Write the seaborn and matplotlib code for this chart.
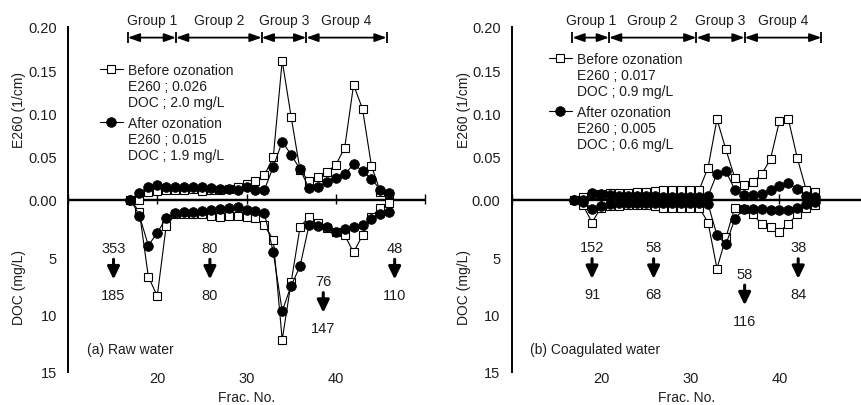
import matplotlib
matplotlib.use("Agg")
import matplotlib.pyplot as plt
import pandas as pd
import seaborn as sns
from matplotlib.lines import Line2D
from matplotlib.legend import Legend

# fraction numbers of the two columns
frac_a = list(range(17, 47))
frac_b = list(range(17, 45))

# (a) raw water
e260_before_a = [0.000, 0.000, 0.009, 0.010, 0.011, 0.011, 0.011, 0.012, 0.010, 0.011,
                 0.011, 0.012, 0.015, 0.018, 0.021, 0.028, 0.049, 0.161, 0.096, 0.034,
                 0.021, 0.026, 0.032, 0.040, 0.060, 0.133, 0.105, 0.039, 0.009, 0.006]
e260_after_a = [0.000, 0.007, 0.015, 0.017, 0.015, 0.014, 0.015, 0.015, 0.015, 0.013,
                0.012, 0.012, 0.011, 0.015, 0.011, 0.011, 0.038, 0.067, 0.052, 0.035,
                0.013, 0.014, 0.020, 0.025, 0.029, 0.041, 0.033, 0.024, 0.011, 0.007]
doc_before_a = [0.0, 1.1, 6.7, 8.4, 2.3, 1.3, 1.3, 1.3, 1.3, 1.4,
                1.5, 1.4, 1.4, 1.5, 1.6, 2.25, 3.5, 12.2, 7.2, 2.4,
                1.5, 2.0, 2.5, 2.8, 3.1, 4.6, 3.1, 1.5, 0.7, 0.3]
doc_after_a = [0.0, 1.4, 4.0, 2.9, 1.6, 1.2, 1.1, 1.1, 1.0, 0.9,
               0.8, 0.7, 0.65, 0.9, 1.0, 1.15, 4.6, 9.7, 7.5, 5.8,
               2.25, 2.3, 2.4, 2.8, 2.55, 2.4, 2.25, 1.7, 1.25, 1.1]

# (b) coagulated water
e260_before_b = [0.000, 0.003, 0.006, 0.006, 0.007, 0.007, 0.008, 0.009, 0.009, 0.010,
                 0.011, 0.011, 0.011, 0.011, 0.011, 0.037, 0.093, 0.058, 0.025, 0.017,
                 0.020, 0.029, 0.047, 0.091, 0.093, 0.048, 0.011, 0.009]
e260_after_b = [0.000, 0.000, 0.007, 0.006, 0.005, 0.004, 0.004, 0.004, 0.004, 0.004,
                0.003, 0.003, 0.003, 0.003, 0.003, 0.004, 0.030, 0.033, 0.011, 0.005,
                0.0055, 0.0065, 0.0105, 0.0155, 0.019, 0.012, 0.0035, 0.0027]
doc_before_b = [0.0, 0.5, 2.0, 0.7, 0.6, 0.6, 0.5, 0.5, 0.5, 0.6,
                0.7, 0.7, 0.7, 0.7, 0.7, 2.0, 6.0, 3.3, 0.7, 0.8,
                1.3, 2.1, 2.4, 2.8, 2.1, 1.3, 0.7, 0.5]
doc_after_b = [0.0, 0.2, 0.8, 0.6, 0.35, 0.3, 0.3, 0.3, 0.3, 0.3,
               0.3, 0.3, 0.3, 0.3, 0.3, 0.4, 3.1, 3.9, 1.7, 0.8,
               0.8, 0.85, 0.9, 0.95, 0.9, 0.75, 0.4, 0.2]

# group boundaries (fraction no.)
groups_a = [16.7, 22.1, 31.7, 36.7, 45.7]
groups_b = [16.8, 20.9, 30.7, 36.1, 44.7]

# before -> after numbers under each group
change_before_a = [353, 80, 76, 48]
change_after_a = [185, 80, 147, 110]
change_before_b = [152, 58, 58, 38]
change_after_b = [91, 68, 116, 84]

legend_a = [["Before ozonation", "E260 ; 0.026", "DOC ; 2.0 mg/L"],
            ["After ozonation", "E260 ; 0.015", "DOC ; 1.9 mg/L"]]
legend_b = [["Before ozonation", "E260 ; 0.017", "DOC ; 0.9 mg/L"],
            ["After ozonation", "E260 ; 0.005", "DOC ; 0.6 mg/L"]]

DOC_TO_Y = 0.20 / 15.0   # 15 mg/L at the bottom sits level with 0.20 1/cm at the top
TXT = "#1e1e1e"

sns.set_style("white")
plt.rcParams["font.family"] = ["Liberation Sans", "DejaVu Sans"]
plt.rcParams["font.size"] = 10

STYLE = {
    "before": dict(marker="s", markersize=5.6, markerfacecolor="white",
                   markeredgecolor="black", markeredgewidth=0.8),
    "after": dict(marker="o", markersize=7.0, markerfacecolor="black",
                  markeredgecolor="black", markeredgewidth=0.5),
}


def long_table(frac, e_before, e_after, d_before, d_after):
    rows = []
    for name, vals, part in [("before", e_before, "E260"), ("before", d_before, "DOC"),
                             ("after", e_after, "E260"), ("after", d_after, "DOC")]:
        for f, v in zip(frac, vals):
            y = v if part == "E260" else -v * DOC_TO_Y
            rows.append({"frac": f, "y": y, "series": name, "part": part})
    return pd.DataFrame(rows)


def draw_panel(ax, df, xmax, groups, ch_before, ch_after, ch_x, ch_top, leg, leg_pos, title):
    # zero line first, so the markers sit on it
    ax.axhline(0, color="black", lw=1.7, zorder=1.5)
    for name in ["before", "after"]:
        for part in ["E260", "DOC"]:
            sub = df[(df.series == name) & (df.part == part)]
            sns.lineplot(data=sub, x="frac", y="y", ax=ax, color="black",
                         linewidth=0.8, legend=False, zorder=3, **STYLE[name])

    ax.set_xlim(10, xmax)
    ax.set_ylim(-0.2, 0.2)
    for s in ["top", "right", "bottom"]:
        ax.spines[s].set_visible(False)
    ax.spines["left"].set_linewidth(1.4)
    ax.spines["left"].set_color("black")
    ax.set_yticks([-15 * DOC_TO_Y, -10 * DOC_TO_Y, -5 * DOC_TO_Y, 0, 0.05, 0.10, 0.15, 0.20])
    ax.set_yticklabels(["15", "10", "5", "0.00", "0.05", "0.10", "0.15", "0.20"])
    ax.tick_params(axis="y", direction="out", length=4, width=1.2, pad=4,
                   labelsize=10.5, labelcolor=TXT, color="black")
    ax.set_xticks([20, 30, 40])
    ax.tick_params(axis="x", length=0, pad=-1, labelsize=10.5, labelcolor=TXT)
    ax.set_xlabel("Frac. No.", fontsize=10, color=TXT, labelpad=4)
    ax.set_ylabel("")

    # fraction ticks on the zero line
    zero = ax.secondary_xaxis(0.5)
    zero.set_xticks([10, 20, 30, 40, 50])
    zero.set_xticklabels([])
    zero.tick_params(direction="inout", length=7, width=1.0, color="black")
    zero.spines["bottom"].set_visible(False)

    ax.text(-0.137, 0.762, "E260 (1/cm)", rotation=90, transform=ax.transAxes,
            ha="center", va="center", fontsize=10, color=TXT)
    ax.text(-0.137, 0.249, "DOC (mg/L)", rotation=90, transform=ax.transAxes,
            ha="center", va="center", fontsize=10, color=TXT)
    ax.text(0.053, 0.067, title, transform=ax.transAxes, ha="left", va="center",
            fontsize=10, color=TXT)

    # group ranges
    gy = 0.1877
    for i in range(len(groups) - 1):
        ax.annotate("", xy=(groups[i + 1], gy), xytext=(groups[i], gy),
                    arrowprops=dict(arrowstyle="<|-|>,head_length=0.7,head_width=0.25",
                                    color="black", lw=1.3, shrinkA=0, shrinkB=0,
                                    mutation_scale=10),
                    annotation_clip=False)
        ax.text((groups[i] + groups[i + 1]) / 2, 0.208, f"Group {i + 1}",
                ha="center", va="center", fontsize=10, color=TXT, clip_on=False)
    ax.vlines(groups, gy - 0.0065, gy + 0.0065, color="black", lw=1.3, clip_on=False)

    # before -> after numbers
    for x, top, b, a in zip(ch_x, ch_top, ch_before, ch_after):
        ax.text(x, -top * DOC_TO_Y, str(b), ha="center", va="center", fontsize=10.5, color=TXT)
        ax.annotate("", xy=(x, -(top + 2.75) * DOC_TO_Y), xytext=(x, -(top + 1.0) * DOC_TO_Y),
                    arrowprops=dict(arrowstyle="-|>,head_length=0.75,head_width=0.36",
                                    color="black", lw=2.2, shrinkA=0, shrinkB=0,
                                    mutation_scale=10))
        ax.text(x, -(top + 4.1) * DOC_TO_Y, str(a), ha="center", va="center",
                fontsize=10.5, color=TXT)

    # legend blocks: series name with its key, then the two summary lines
    blank = Line2D([], [], linestyle="none")
    for k, (name, labels) in enumerate(zip(["before", "after"], leg)):
        h = Line2D([], [], color="black", linewidth=0.8, **STYLE[name])
        lg = Legend(ax, [h, blank, blank], labels, loc="upper left",
                    bbox_to_anchor=leg_pos[k], bbox_transform=ax.transAxes,
                    frameon=False, fontsize=10, handlelength=1.65,
                    handletextpad=0.35, labelspacing=0.13, borderpad=0,
                    borderaxespad=0, labelcolor=TXT)
        ax.add_artist(lg)


df_a = long_table(frac_a, e260_before_a, e260_after_a, doc_before_a, doc_after_a)
df_b = long_table(frac_b, e260_before_b, e260_after_b, doc_before_b, doc_after_b)

fig = plt.figure(figsize=(8.61, 4.06), dpi=100)
ax_a = fig.add_axes([68 / 861, 33 / 406, 357 / 861, 345 / 406])
ax_b = fig.add_axes([511.7 / 861, 33 / 406, 349.3 / 861, 345 / 406])

draw_panel(ax_a, df_a, 50, groups_a, change_before_a, change_after_a,
           [15.1, 25.9, 38.6, 46.6], [4.2, 4.2, 7.1, 4.2], legend_a,
           [(0.0896, 0.8957), (0.0896, 0.742)], "(a) Raw water")
draw_panel(ax_b, df_b, 10 + 349.3 / 8.925, groups_b, change_before_b, change_after_b,
           [19.0, 25.9, 36.1, 42.1], [4.15, 4.15, 6.45, 4.15], legend_b,
           [(0.1068, 0.9275), (0.1068, 0.774)], "(b) Coagulated water")

fig.savefig("out.png", dpi=100)
